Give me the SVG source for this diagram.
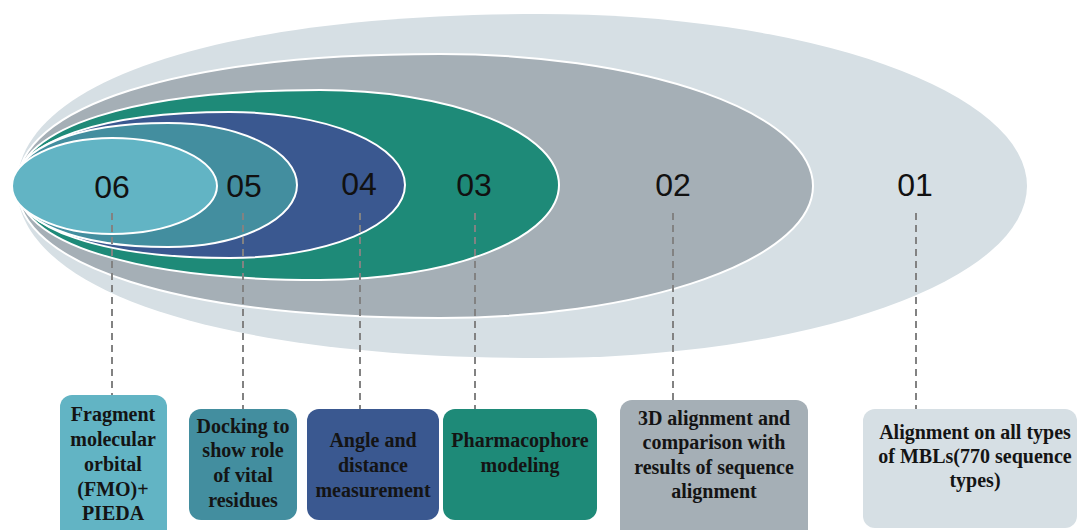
<svg xmlns="http://www.w3.org/2000/svg" width="1077" height="530" viewBox="0 0 1077 530">
  <style>
    .ring { stroke: #ffffff; stroke-width: 2; }
    .num { font-family: "Liberation Sans", Arial, sans-serif; font-size: 32px; fill: #111111; text-anchor: middle; }
    .lbl { font-family: "Liberation Serif", "Times New Roman", serif; font-weight: bold; font-size: 20px; fill: #141414; text-anchor: middle; }
    .lead { stroke: #828282; stroke-width: 2; stroke-dasharray: 7 5; fill: none; }
    .c1 { fill: #d6dfe4; }
    .c2 { fill: #a5afb6; }
    .c3 { fill: #1e8a78; }
    .c4 { fill: #3a5890; }
    .c5 { fill: #438e9f; }
    .c6 { fill: #62b4c4; }
  </style>

  <!-- nested egg-shaped layers, outermost first -->
  <g id="layer-01">
    <path class="c1" d="M17,186 C17,82.8 215.7,14 540,14 A487,172 0 0 1 1027,186 A487,172 0 0 1 540,358 C215.7,358 17,289.2 17,186 Z"/>
  </g>
  <g id="layer-02">
    <path class="c2 ring" d="M17,186 C17,106.8 177.7,54 440,54 A373,132 0 0 1 813,186 A373,132 0 0 1 440,318 C177.7,318 17,265.2 17,186 Z"/>
  </g>
  <g id="layer-03">
    <path class="c3 ring" d="M17,185 C17,128 132.1,90 320,90 A239,95 0 0 1 559,185 A239,95 0 0 1 320,280 C132.1,280 17,242 17,185 Z"/>
  </g>
  <g id="layer-04">
    <path class="c4 ring" d="M16,185 C16,141.2 101.6,112 230,112 A175,73 0 0 1 405,185 A175,73 0 0 1 230,258 C101.6,258 16,228.8 16,185 Z"/>
  </g>
  <g id="layer-05">
    <path class="c5 ring" d="M15,185 C15,147.8 76.2,123 168,123 A129,62 0 0 1 297,185 A129,62 0 0 1 168,247 C76.2,247 15,222.2 15,185 Z"/>
  </g>
  <g id="layer-06">
    <path class="c6 ring" d="M12,186 C12,159.6 57,138 112,138 A105,48 0 0 1 217,186 A105,48 0 0 1 112,234 C57,234 12,212.4 12,186 Z"/>
  </g>

  <!-- layer numbers -->
  <g id="numbers">
    <text class="num" x="112" y="198">06</text>
    <text class="num" x="244" y="197">05</text>
    <text class="num" x="359" y="195">04</text>
    <text class="num" x="474" y="196">03</text>
    <text class="num" x="673" y="196">02</text>
    <text class="num" x="915" y="196">01</text>
  </g>

  <!-- dashed leader lines from each layer to its caption box -->
  <g id="connectors">
    <line class="lead" x1="112" y1="213" x2="112" y2="395"/>
    <line class="lead" x1="243" y1="213" x2="243" y2="409"/>
    <line class="lead" x1="360" y1="213" x2="360" y2="409"/>
    <line class="lead" x1="475" y1="213" x2="475" y2="409"/>
    <line class="lead" x1="673" y1="213" x2="673" y2="400"/>
    <line class="lead" x1="916" y1="213" x2="916" y2="409"/>
  </g>

  <!-- caption boxes -->
  <g id="box-06">
    <rect class="c6" x="60" y="395" width="107" height="150" rx="12"/>
    <text class="lbl" x="113" y="421">Fragment</text>
    <text class="lbl" x="113" y="446">molecular</text>
    <text class="lbl" x="113" y="471">orbital</text>
    <text class="lbl" x="113" y="496">(FMO)+</text>
    <text class="lbl" x="113" y="520">PIEDA</text>
  </g>
  <g id="box-05">
    <rect class="c5" x="189" y="409" width="108" height="111" rx="12"/>
    <text class="lbl" x="243" y="433">Docking to</text>
    <text class="lbl" x="243" y="457">show role</text>
    <text class="lbl" x="243" y="482">of vital</text>
    <text class="lbl" x="243" y="507">residues</text>
  </g>
  <g id="box-04">
    <rect class="c4" x="307" y="409" width="132" height="111" rx="12"/>
    <text class="lbl" x="373" y="447">Angle and</text>
    <text class="lbl" x="373" y="472">distance</text>
    <text class="lbl" x="373" y="497">measurement</text>
  </g>
  <g id="box-03">
    <rect class="c3" x="443" y="409" width="154" height="111" rx="12"/>
    <text class="lbl" x="520" y="447">Pharmacophore</text>
    <text class="lbl" x="520" y="472">modeling</text>
  </g>
  <g id="box-02">
    <rect class="c2" x="620" y="400" width="188" height="150" rx="12"/>
    <text class="lbl" x="714" y="425">3D alignment and</text>
    <text class="lbl" x="714" y="449">comparison with</text>
    <text class="lbl" x="714" y="474">results of sequence</text>
    <text class="lbl" x="714" y="498">alignment</text>
  </g>
  <g id="box-01">
    <rect class="c1" x="863" y="409" width="214" height="119" rx="12"/>
    <text class="lbl" x="975" y="439">Alignment on all types</text>
    <text class="lbl" x="975" y="463">of MBLs(770 sequence</text>
    <text class="lbl" x="975" y="487">types)</text>
  </g>
</svg>
